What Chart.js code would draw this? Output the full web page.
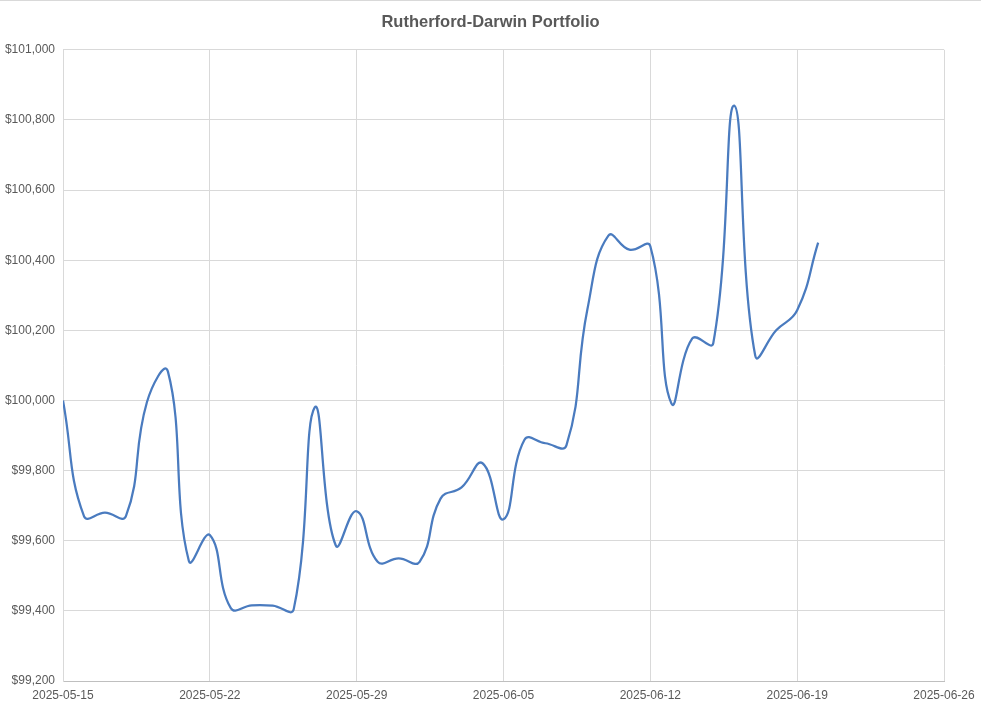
<!DOCTYPE html>
<html>
<head>
<meta charset="utf-8">
<script src="https://cdn.jsdelivr.net/npm/chart.js@4"></script>
<style>
  html, body { margin: 0; padding: 0; background: #fff; }
  #wrap { width: 981px; height: 713px; border-top: 1px solid #d9d9d9; box-sizing: border-box; }
</style>
</head>
<body>
<div id="wrap"><canvas id="chart" width="981" height="712"></canvas></div>
<script>
const title = 'Rutherford-Darwin Portfolio';

const dates = [
    '2025-05-15', '2025-05-16', '2025-05-17', '2025-05-18', '2025-05-19', '2025-05-20', '2025-05-21',
    '2025-05-22', '2025-05-23', '2025-05-24', '2025-05-25', '2025-05-26', '2025-05-27', '2025-05-28',
    '2025-05-29', '2025-05-30', '2025-05-31', '2025-06-01', '2025-06-02', '2025-06-03', '2025-06-04',
    '2025-06-05', '2025-06-06', '2025-06-07', '2025-06-08', '2025-06-09', '2025-06-10', '2025-06-11',
    '2025-06-12', '2025-06-13', '2025-06-14', '2025-06-15', '2025-06-16', '2025-06-17', '2025-06-18',
    '2025-06-19', '2025-06-20'
];

const values = [
    100000, 99670, 99680, 99670, 99995, 100083, 99542,
    99616, 99408, 99416, 99415, 99405, 99980, 99587,
    99684, 99540, 99550, 99540, 99720, 99752, 99821,
    99661, 99888, 99878, 99872, 100260, 100470, 100430,
    100440, 99992, 100177, 100163, 100841, 100128, 100200,
    100257, 100450
];

const xTickLabels = ['2025-05-15', '2025-05-22', '2025-05-29', '2025-06-05', '2025-06-12', '2025-06-19', '2025-06-26'];

const DAY = 86400000;
const start = Date.parse(xTickLabels[0]);
const dayOf = d => Math.round((Date.parse(d) - start) / DAY);

const points = dates.map((d, i) => ({ x: dayOf(d), y: values[i] }));
const money = v => '$' + v.toLocaleString('en-US');

const font = "'Liberation Sans', Arial, sans-serif";

new Chart(document.getElementById('chart').getContext('2d'), {
    type: 'line',
    data: {
        datasets: [{
            label: title,
            data: points,
            borderColor: '#4a7bbf',
            borderWidth: 2.25,
            pointRadius: 0,
            tension: 0.45,
            fill: false
        }]
    },
    options: {
        responsive: false,
        animation: false,
        layout: { padding: 0 },
        plugins: {
            legend: { display: false },
            tooltip: { enabled: false },
            title: {
                display: true,
                text: title,
                color: '#595959',
                font: { family: font, size: 16.5, weight: 'bold' },
                padding: { top: 12, bottom: 17 }
            }
        },
        scales: {
            x: {
                type: 'linear',
                min: 0,
                max: dayOf(xTickLabels[xTickLabels.length - 1]),
                afterBuildTicks: s => { s.ticks = xTickLabels.map(t => ({ value: dayOf(t) })); },
                ticks: {
                    color: '#595959',
                    font: { family: font, size: 12 },
                    maxRotation: 0,
                    padding: 7,
                    callback: v => xTickLabels.find(t => dayOf(t) === v) || ''
                },
                grid: { color: '#d9d9d9', drawTicks: false },
                border: { color: '#bfbfbf' },
                afterFit: s => { s.height = 32; s.paddingRight = 37; s.paddingLeft = 0; }
            },
            y: {
                min: 99200,
                max: 101000,
                ticks: {
                    stepSize: 200,
                    color: '#595959',
                    font: { family: font, size: 12 },
                    padding: 8,
                    callback: v => money(v)
                },
                grid: { color: '#d9d9d9', drawTicks: false },
                border: { color: '#d9d9d9' },
                afterFit: s => { s.width = 63; }
            }
        }
    }
});
</script>
</body>
</html>
